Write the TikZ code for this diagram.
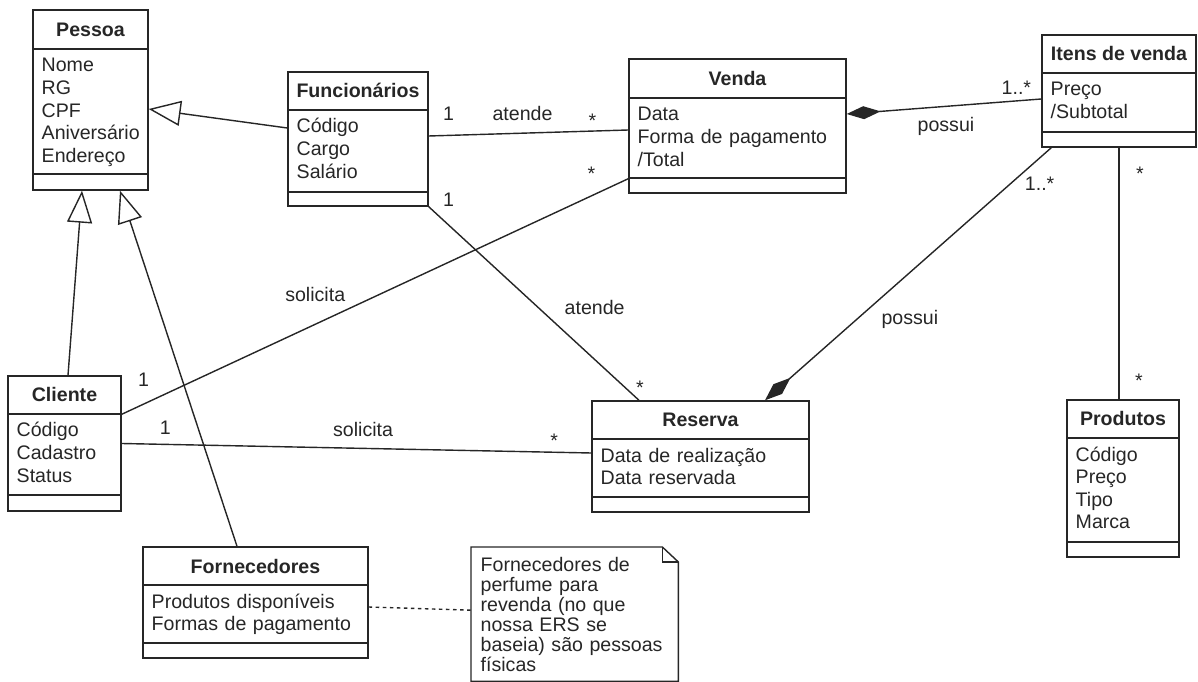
\documentclass[tikz,border=0pt]{standalone}
\usepackage{fontspec}
\setmainfont{Liberation Sans}
\usetikzlibrary{arrows.meta,positioning,fit,calc}

\newcommand{\umlsize}{\fontsize{11.15pt}{12.86pt}\selectfont}
% name, left, top, right, bottom, header line, divider line, title, attributes
\newcommand{\umlclass}[9]{%
  \node[classbox, fit={(#2,#3) (#4,#5)}] (#1) {};
  \draw (#2,#6) -- (#4,#6) (#2,#7) -- (#4,#7);
  \node[classtitle] (#1-title) at ({(#2+#4)/2},#6-12) {#8};
  \node[classattr] (#1-attr) at (#2,#6+23) {#9};
}

\begin{document}
\begin{tikzpicture}[x=0.02cm, y=-0.02cm, line width=0.8pt, color=black!85,
    every node/.style={font=\umlsize},
    classbox/.style={draw, inner sep=0pt},
    classtitle/.style={anchor=base, font=\umlsize\bfseries},
    classattr/.style={anchor=base west, inner xsep=0.16cm, inner ysep=0pt, text width=4cm, align=left},
    notebox/.style={anchor=north west, inner xsep=0.18cm, minimum height=2.66cm, text width=3.76cm, align=left, font=\fontsize{11.15pt}{11.38pt}\selectfont},
    lbl/.style={inner sep=0pt},
    gen/.style={-{Triangle[open, length=0.64cm, width=0.5cm]}},
    comp/.style={-{Diamond[length=0.68cm, width=0.26cm]}}]
		\useasboundingbox (0,0) rectangle (1198,682);

		% classes
		\umlclass{pessoa}{33}{10}{148}{190}{49}{174}{Pessoa}{Nome\\RG\\CPF\\Aniversário\\Endereço}
		\umlclass{func}{288}{72}{428}{206}{110}{192}{Funcionários}{Código\\Cargo\\Salário}
		\umlclass{venda}{629}{59}{846}{193}{98}{178}{Venda}{Data\\Forma de pagamento\\/Total}
		\umlclass{itens}{1042}{35}{1196}{147}{73}{132}{Itens de venda}{Preço\\/Subtotal}
		\umlclass{cliente}{8}{376}{121}{511}{414}{495}{Cliente}{Código\\Cadastro\\Status}
		\umlclass{reserva}{592}{401}{809}{512}{439}{497}{Reserva}{Data de realização\\Data reservada}
		\umlclass{produtos}{1067}{400}{1179}{557}{438}{542}{Produtos}{Código\\Preço\\Tipo\\Marca}
		\umlclass{forn}{143}{547}{368}{658}{585}{643}{Fornecedores}{Produtos disponíveis\\Formas de pagamento}

		% note
		\node[notebox] (note) at (471,547) {Fornecedores de\\perfume para\\revenda (no que\\nossa ERS se\\baseia) são pessoas\\físicas};
		\draw (note.south west) -- (note.north west) -- ($(note.north east)+(-16,0)$) -- ($(note.north east)+(0,15)$) -- (note.south east) -- cycle;
		\draw ($(note.north east)+(-16,0)$) -- ($(note.north east)+(-16,15)$) -- ($(note.north east)+(0,15)$);

		% generalizations
		\draw[gen] ($(func.west)+(0,-11)$) -- ($(pessoa.east)+(0,9)$);
		\draw[gen] ($(cliente.north)+(3.5,0)$) -- ($(pessoa.south)+(-8.5,0)$);
		\draw[gen] ($(forn.north)+(-18.5,0)$) -- ($(pessoa.south)+(29.5,0)$);

		% associations
		\draw ($(func.east)+(0,-3)$) -- node[lbl, pos=.1, shift={(0,-22)}] (a1) {1} node[lbl, pos=.47, shift={(0,-20)}] (a2) {atende} node[lbl, pos=.82, shift={(0,-10)}] (a3) {*} ($(venda.west)+(0,4)$);
		\draw (func.south east) -- node[lbl, pos=.095, shift={(0,-25.5)}] (a4) {1} node[lbl, pos=.523, shift={(56,0)}] (a5) {atende} node[lbl, pos=.933, shift={(15,0)}] (a6) {*} ($(reserva.north)+(-61.5,0)$);
		\draw ($(cliente.north east)+(0,39)$) -- node[lbl, pos=.043, shift={(0,-24)}] (s1) {1} node[lbl, pos=.382, shift={(0,-29.5)}] (s2) {solicita} node[lbl, pos=.927, shift={(0,-22)}] (s3) {*} ($(venda.south west)+(0,-15)$);
		\draw (cliente.east) -- node[lbl, pos=.093, shift={(0,-16.7)}] (s4) {1} node[lbl, pos=.514, shift={(0,-19)}] (s5) {solicita} node[lbl, pos=.921, shift={(0,-11)}] (s6) {*} ($(reserva.west)+(0,-3.5)$);
		\draw (itens.south) -- node[lbl, pos=.103, shift={(21,0)}] (m1) {*} node[lbl, pos=.925, shift={(20,0)}] (m2) {*} (itens.south |- produtos.north);

		% compositions
		\draw[comp] ($(itens.west)+(0,8)$) -- node[lbl, pos=.128, shift={(0,-13)}] (p1) {1..*} node[lbl, pos=.49, shift={(0,20)}] (p2) {possui} ($(venda.east)+(0,-12)$);
		\draw[comp] ($(itens.south west)+(10,0)$) -- node[lbl, pos=.142, shift={(29,0)}] (p3) {1..*} node[lbl, pos=.681, shift={(53.5,0)}] (p4) {possui} ($(reserva.north)+(64.5,0)$);

		% note link
		\draw[dash pattern=on 2pt off 2pt] ($(forn.east)+(0,4.5)$) -- ($(note.west)+(0,-4)$);
	\end{tikzpicture}
\end{document}
